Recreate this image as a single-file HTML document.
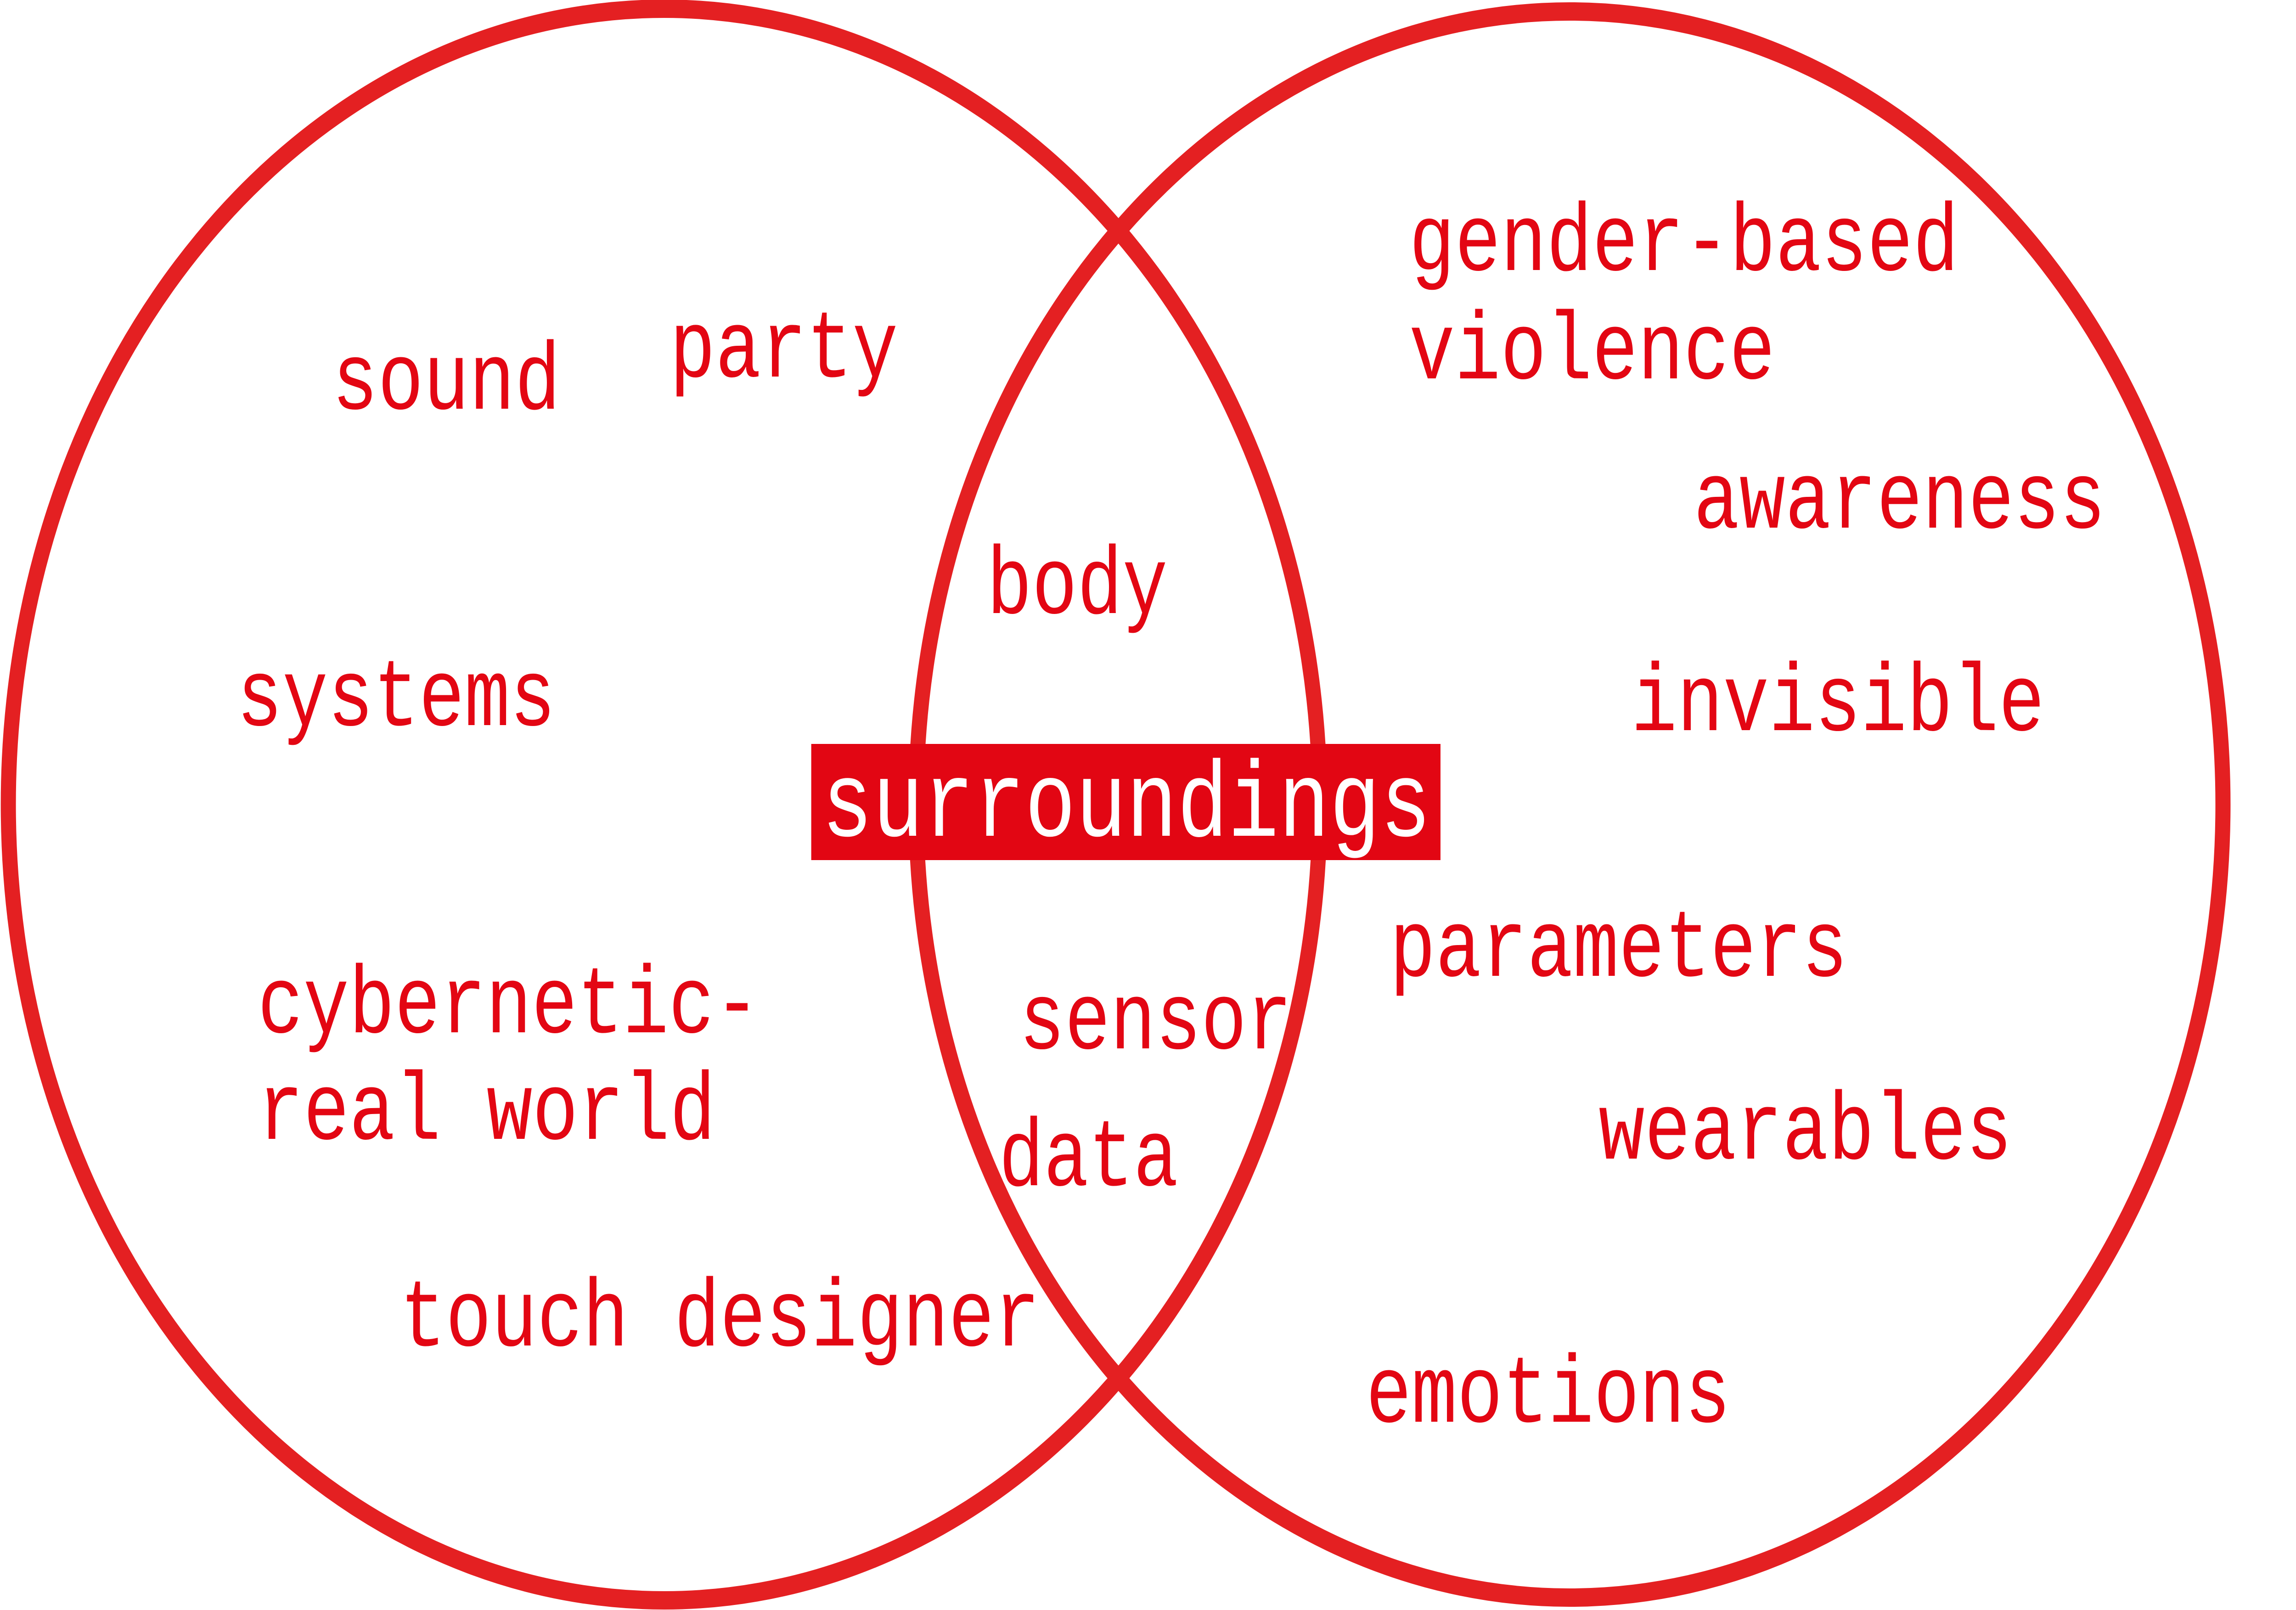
<!DOCTYPE html>
<html><head><meta charset="utf-8"><style>
html,body{margin:0;padding:0;background:#fff;width:100%;height:100%;overflow:hidden;}
svg{display:block;width:100vw;height:100vh;}
text{font-family:"Liberation Mono",monospace;}
</style></head>
<body>
<svg id="venn" viewBox="0 0 6068 3506" preserveAspectRatio="none" xmlns="http://www.w3.org/2000/svg">
<circle cx="1755" cy="1752" r="1733" fill="none" stroke="#E42022" stroke-width="40"/>
<circle cx="4148" cy="1752" r="1727" fill="none" stroke="#E42022" stroke-width="40"/>
<g id="labels"></g>
<rect x="2144" y="1620" width="1663" height="253" fill="#E20613"/>
<text transform="translate(2172,1820) scale(1,1.06)" font-size="221" fill="#fff" textLength="1610" lengthAdjust="spacingAndGlyphs">surroundings</text>
</svg>
<script>
const words = ["sound","party","body","systems","cybernetic-","real world","touch designer","sensor","data","gender-based","violence","awareness","invisible","parameters","wearables","emotions"];
const xs = [878,1770,2608,626,681,681,1057,2694,2640,3724,3724,4476,4311,3673,4225,3610];
const ys = [890,820,1335,1579,2248,2480,2930,2283,2581,588,824,1149,1590,2125,2523,3096];
const widths = [150,150,118,211,335,305,428,180,117,367,243,274,275,305,275,242];
const g = document.getElementById('labels');
const NS = 'http://www.w3.org/2000/svg';
for (let i = 0; i < words.length; i++) {
  const t = document.createElementNS(NS, 'text');
  
  
  t.setAttribute('transform', 'translate(' + xs[i] + ',' + ys[i] + ') scale(1,1.1)');
  t.setAttribute('font-size', '190');
  t.setAttribute('fill', '#E30613');
  t.setAttribute('textLength', String(widths[i] * 3.915 + 16));
  t.setAttribute('lengthAdjust', 'spacingAndGlyphs');
  t.textContent = words[i];
  g.appendChild(t);
}
</script>
</body></html>
